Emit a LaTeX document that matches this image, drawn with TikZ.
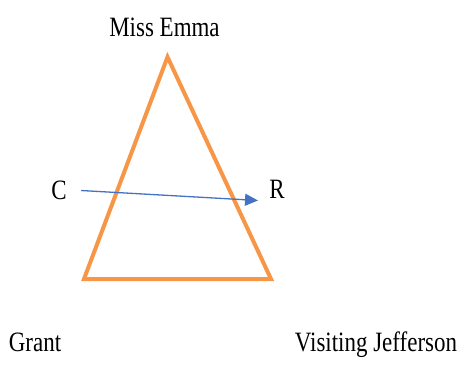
\documentclass[tikz,border=0pt]{standalone}
\usepackage{fontspec}
\setmainfont{Liberation Serif}
\usetikzlibrary{arrows.meta}
\definecolor{triorange}{RGB}{247,150,70}
\definecolor{arrowblue}{RGB}{68,114,196}
\tikzset{
  lbl/.style={font=\fontsize{28}{32}\selectfont, xscale=0.82, inner sep=0pt, anchor=base}
}
\begin{document}
\begin{tikzpicture}[x=1pt,y=-1pt]
            \useasboundingbox (0,0) rectangle (461,367);
            % Triangle
            \coordinate (top) at (167.5,57);
            \coordinate (left) at (84,279);
            \coordinate (right) at (271,279);
            \draw[triorange, line width=4pt] (top) -- (left) -- (right) -- cycle;
            % Arrow
            \coordinate (from) at (81,190.5);
            \coordinate (to) at (258,200.5);
            \draw[arrowblue, line width=1.3pt, -{Triangle[length=13pt,width=12pt]}] (from) -- (to);
            % Labels
            \node[lbl] (emma) at (164.5,36) {Miss Emma};
            \node[lbl] (c) at (59,199) {C};
            \node[lbl] (r) at (277,198.5) {R};
            \node[lbl] (grant) at (35,351) {Grant};
            \node[lbl] (visit) at (376,351) {Visiting Jefferson};
        \end{tikzpicture}
\end{document}
